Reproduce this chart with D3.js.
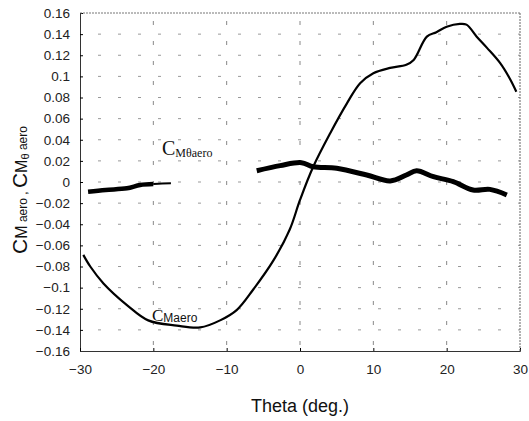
<!DOCTYPE html>
<html lang="en">
<head>
<meta charset="UTF-8">
<title>CM aero vs Theta</title>
<script src="https://d3js.org/d3.v7.min.js"></script>
<style>
  body { margin: 0; background: #fff; }
  svg { font-family: "Liberation Sans", Arial, sans-serif; }
</style>
</head>
<body>
<div id="chart"></div>
<script>
// CM aero curve (thin line)
var thetaCM = [-29.55, -28.6, -26.8, -23.6, -20.7, -16.8, -13.6, -10.9, -8.6, -6.4, -3.6, -1.4, 0,
               1.8, 4.1, 6.4, 8.2, 10, 12.3, 14.5, 15.5, 17.3, 18.6, 20, 21.8, 22.7, 24.1, 25.5, 27.3, 28.6, 29.5];
var valCM = [-0.069, -0.080, -0.096, -0.1165, -0.131, -0.136, -0.1377, -0.131, -0.121, -0.102, -0.074, -0.045, -0.017,
             0.0145, 0.046, 0.0745, 0.0935, 0.103, 0.108, 0.111, 0.1155, 0.1376, 0.1418, 0.147, 0.1497, 0.149, 0.1376, 0.127, 0.1125, 0.098, 0.0855];

// CM theta aero curve (thick line), two pieces
var thetaCMT1 = [-28.9, -26.5, -23.6, -21.8, -20];
var valCMT1 = [-0.0092, -0.0075, -0.006, -0.0028, -0.0019];
var thetaCMT1b = [-20, -18.8, -17.6];
var valCMT1b = [-0.0019, -0.0015, -0.0013];
var thetaCMT2 = [-5.9, -2.7, 0.2, 1.8, 5, 9.1, 12.3, 14.5, 15.9, 18.2, 20.9, 23.6, 25.9, 28.2];
var valCMT2 = [0.0107, 0.0155, 0.0183, 0.0145, 0.013, 0.0066, 0.001, 0.0066, 0.0107, 0.005, 0.0003, -0.0076, -0.007, -0.0123];

var xTicks = [-30, -20, -10, 0, 10, 20, 30];
var yTicks = [-0.16, -0.14, -0.12, -0.1, -0.08, -0.06, -0.04, -0.02, 0, 0.02, 0.04, 0.06, 0.08, 0.1, 0.12, 0.14, 0.16];

var width = 529, height = 421;
var margin = {left: 80, right: 9, top: 13, bottom: 70};

var svg = d3.select("#chart").append("svg")
    .attr("width", width)
    .attr("height", height);

var x = d3.scaleLinear().domain([-30, 30]).range([margin.left, width - margin.right]);
var y = d3.scaleLinear().domain([-0.16, 0.16]).range([height - margin.bottom, margin.top]);

function fmt(v) {
    if (v === 0) return "0";
    var s = d3.format("")(Math.round(v * 100) / 100);
    return s.replace("-", "\u2212");
}

// grid
svg.append("g").selectAll("line")
    .data(yTicks.slice(1, -1))
    .join("line")
    .attr("x1", x(-30)).attr("x2", x(30))
    .attr("y1", d => y(d)).attr("y2", d => y(d))
    .attr("stroke", "#999")
    .attr("stroke-width", 1)
    .attr("stroke-dasharray", "3,17")
    .attr("stroke-dashoffset", -18);

svg.append("g").selectAll("line")
    .data(xTicks.slice(1, -1))
    .join("line")
    .attr("x1", d => x(d)).attr("x2", d => x(d))
    .attr("y1", y(-0.16)).attr("y2", y(0.16))
    .attr("stroke", "#888")
    .attr("stroke-width", 1)
    .attr("stroke-dasharray", "4,16")
    .attr("stroke-dashoffset", -6);

// axes with inner ticks
var yAxis = d3.axisLeft(y).tickValues(yTicks).tickSize(-3).tickPadding(10).tickFormat(fmt);
var gy = svg.append("g").attr("transform", "translate(" + margin.left + ",0)").call(yAxis);
gy.select(".domain").attr("stroke", "#333");
gy.selectAll("text").attr("font-size", 13.5).attr("fill", "#222");

var xAxis = d3.axisBottom(x).tickValues(xTicks).tickSize(-3).tickPadding(13).tickFormat(fmt);
var gx = svg.append("g").attr("transform", "translate(0," + (height - margin.bottom) + ")").call(xAxis);
gx.select(".domain").attr("stroke", "#333");
gx.selectAll("text").attr("font-size", 13.5).attr("fill", "#222");

// top and right border
svg.append("line").attr("x1", x(-30)).attr("x2", x(30)).attr("y1", y(0.16)).attr("y2", y(0.16))
    .attr("stroke", "#777").attr("stroke-dasharray", "2,1");
svg.append("line").attr("x1", x(30)).attr("x2", x(30)).attr("y1", y(0.16)).attr("y2", y(-0.16))
    .attr("stroke", "#666").attr("stroke-dasharray", "2,1");

// curves
var line = d3.line().x(d => x(d[0])).y(d => y(d[1])).curve(d3.curveCatmullRom);

svg.append("path")
    .datum(d3.zip(thetaCM, valCM))
    .attr("d", line)
    .attr("fill", "none").attr("stroke", "#000").attr("stroke-width", 2.2);

svg.append("path")
    .datum(d3.zip(thetaCMT1, valCMT1))
    .attr("d", line)
    .attr("fill", "none").attr("stroke", "#000").attr("stroke-width", 4.5);
svg.append("path")
    .datum(d3.zip(thetaCMT1b, valCMT1b))
    .attr("d", line)
    .attr("fill", "none").attr("stroke", "#000").attr("stroke-width", 2);
svg.append("path")
    .datum(d3.zip(thetaCMT2, valCMT2))
    .attr("d", line)
    .attr("fill", "none").attr("stroke", "#000").attr("stroke-width", 5);

// in-plot labels
var l1 = svg.append("text")
    .attr("x", 162).attr("y", 155)
    .attr("font-family", "'Liberation Serif', 'Times New Roman', serif")
    .attr("fill", "#111");
l1.append("tspan").attr("font-size", 20).text("C");
l1.append("tspan").attr("font-size", 12).attr("dy", 2).text("M\u03b8aero");

var l2 = svg.append("text")
    .attr("x", 152).attr("y", 321)
    .attr("fill", "#111");
l2.append("tspan").attr("font-size", 17).attr("font-family", "'Liberation Serif', serif").text("C");
l2.append("tspan").attr("font-size", 12).attr("dy", 1).text("Maero");

// axis titles
svg.append("text")
    .attr("x", x(0)).attr("y", 412)
    .attr("text-anchor", "middle")
    .attr("font-size", 18).attr("fill", "#111")
    .text("Theta (deg.)");

var yt = svg.append("text")
    .attr("transform", "translate(27," + 190 + ") rotate(-90)")
    .attr("text-anchor", "middle")
    .attr("fill", "#111");
yt.append("tspan").attr("font-size", 21).text("C");
yt.append("tspan").attr("font-size", 16).text("M");
yt.append("tspan").attr("font-size", 12).text(" aero , ");
yt.append("tspan").attr("font-size", 21).text("C");
yt.append("tspan").attr("font-size", 16).text("M");
yt.append("tspan").attr("font-size", 11).attr("dy", 2).text("\u03b8");
yt.append("tspan").attr("font-size", 12).attr("dy", -2).text(" aero");
</script>
</body>
</html>
